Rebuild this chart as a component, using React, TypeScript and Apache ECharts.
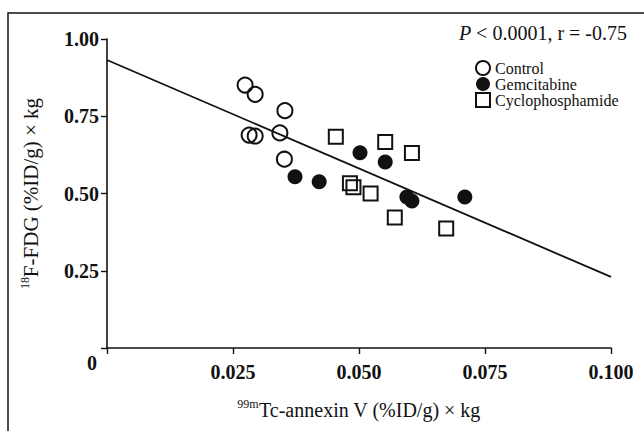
import React, { useEffect, useRef } from "react";
import * as echarts from "echarts";

// ---- data ----
const controlX = [0.0274, 0.0294, 0.0353, 0.0282, 0.0294, 0.0343, 0.0352];
const controlY = [0.851, 0.821, 0.768, 0.689, 0.686, 0.696, 0.611];

const gemX = [0.0373, 0.0421, 0.0502, 0.0552, 0.0595, 0.0605, 0.071];
const gemY = [0.554, 0.538, 0.632, 0.602, 0.489, 0.476, 0.489];

const cycX = [0.0454, 0.0552, 0.0605, 0.0482, 0.0489, 0.0523, 0.0571, 0.0673];
const cycY = [0.684, 0.667, 0.631, 0.533, 0.52, 0.5, 0.422, 0.387];

const fitX = [0, 0.1];
const fitY = [0.932, 0.23];

const seriesNames = ["Control", "Gemcitabine", "Cyclophosphamide"];
const xAxisTitle = "{sup|99m}Tc-annexin V (%ID/g) × kg";
const yAxisTitle = "{sup|18}F-FDG (%ID/g) × kg";
const statText = "{i|P} < 0.0001, r = -0.75";

const pairs = (xs: number[], ys: number[]) => xs.map((x, i) => [x, ys[i]]);

const INK = "#111";
const FONT = "Liberation Serif";

export default function App() {
  const ref = useRef<HTMLDivElement>(null);

  useEffect(() => {
    document.body.style.margin = "0";
    if (!ref.current) return;
    const chart = echarts.init(ref.current, undefined, { renderer: "svg" });
    const supRich = {
      sup: { fontSize: 12, lineHeight: 12, verticalAlign: "top" as const, fontFamily: FONT, color: INK },
    };
    chart.setOption({
      animation: false,
      backgroundColor: "#fff",
      textStyle: { fontFamily: FONT, color: INK },
      grid: { left: 107, right: 33, top: 39, bottom: 83, containLabel: false },
      legend: {
        data: seriesNames,
        orient: "vertical",
        left: 475,
        top: 60,
        itemWidth: 14,
        itemHeight: 14,
        itemGap: 0,
        padding: 0,
        textStyle: { fontFamily: FONT, fontWeight: "normal", fontSize: 16, lineHeight: 16, color: INK },
      },
      xAxis: {
        type: "value",
        min: 0,
        max: 0.1,
        interval: 0.025,
        splitLine: { show: false },
        axisLine: { show: true, lineStyle: { color: INK, width: 1.6 } },
        axisTick: { show: true, length: 6, lineStyle: { color: INK, width: 1.4 } },
        axisLabel: {
          margin: 14,
          fontFamily: FONT,
          fontWeight: "bold",
          fontSize: 20,
          color: INK,
          showMaxLabel: true,
          formatter: (v: number) => (v === 0 ? "" : v.toFixed(3)),
        },
        name: xAxisTitle,
        nameLocation: "middle",
        nameGap: 50,
        nameTextStyle: { fontFamily: FONT, fontSize: 20, lineHeight: 24, color: INK, rich: supRich },
      },
      yAxis: {
        type: "value",
        min: 0,
        max: 1,
        interval: 0.25,
        splitLine: { show: false },
        axisLine: { show: true, lineStyle: { color: INK, width: 1.6 } },
        axisTick: { show: true, length: 6, lineStyle: { color: INK, width: 1.4 } },
        axisLabel: {
          margin: 8,
          fontFamily: FONT,
          fontWeight: "bold",
          fontSize: 20,
          color: INK,
          showMaxLabel: true,
          formatter: (v: number) => (v === 0 ? "" : v.toFixed(2)),
        },
        name: yAxisTitle,
        nameLocation: "middle",
        nameGap: 64,
        nameTextStyle: { fontFamily: FONT, fontSize: 21, lineHeight: 24, color: INK, rich: supRich },
      },
      graphic: [
        {
          type: "rect",
          shape: { x: 8, y: 13, width: 700, height: 500 },
          style: { fill: "none", stroke: INK, lineWidth: 1.5 },
          silent: true,
        },
        {
          type: "text",
          x: 92,
          y: 363,
          style: {
            text: "0",
            fontFamily: FONT,
            fontWeight: "bold",
            fontSize: 20,
            fill: INK,
            align: "center",
            verticalAlign: "middle",
          },
        },
        {
          type: "text",
          x: 627,
          y: 33,
          style: {
            text: statText,
            fontFamily: FONT,
            fontSize: 20,
            fill: INK,
            align: "right",
            verticalAlign: "middle",
            rich: {
              i: { fontFamily: FONT, fontSize: 20, fontStyle: "italic", fill: INK },
            },
          },
        },
      ],
      series: [
        {
          name: "fit",
          type: "line",
          data: pairs(fitX, fitY),
          symbol: "none",
          lineStyle: { color: INK, width: 1.8 },
          z: 1,
          silent: true,
        },
        {
          name: seriesNames[0],
          type: "scatter",
          symbol: "circle",
          symbolSize: 15,
          data: pairs(controlX, controlY),
          itemStyle: { color: "rgba(255,255,255,0)", borderColor: INK, borderWidth: 2, opacity: 1 },
          z: 3,
        },
        {
          name: seriesNames[1],
          type: "scatter",
          symbol: "circle",
          symbolSize: 15,
          data: pairs(gemX, gemY),
          itemStyle: { color: INK, borderColor: INK, borderWidth: 0, opacity: 1 },
          z: 3,
        },
        {
          name: seriesNames[2],
          type: "scatter",
          symbol: "rect",
          symbolSize: 14,
          data: pairs(cycX, cycY),
          itemStyle: { color: "rgba(255,255,255,0)", borderColor: INK, borderWidth: 2, opacity: 1 },
          z: 3,
        },
      ],
    });
    return () => chart.dispose();
  }, []);

  return <div ref={ref} style={{ width: 644, height: 431 }} />;
}
